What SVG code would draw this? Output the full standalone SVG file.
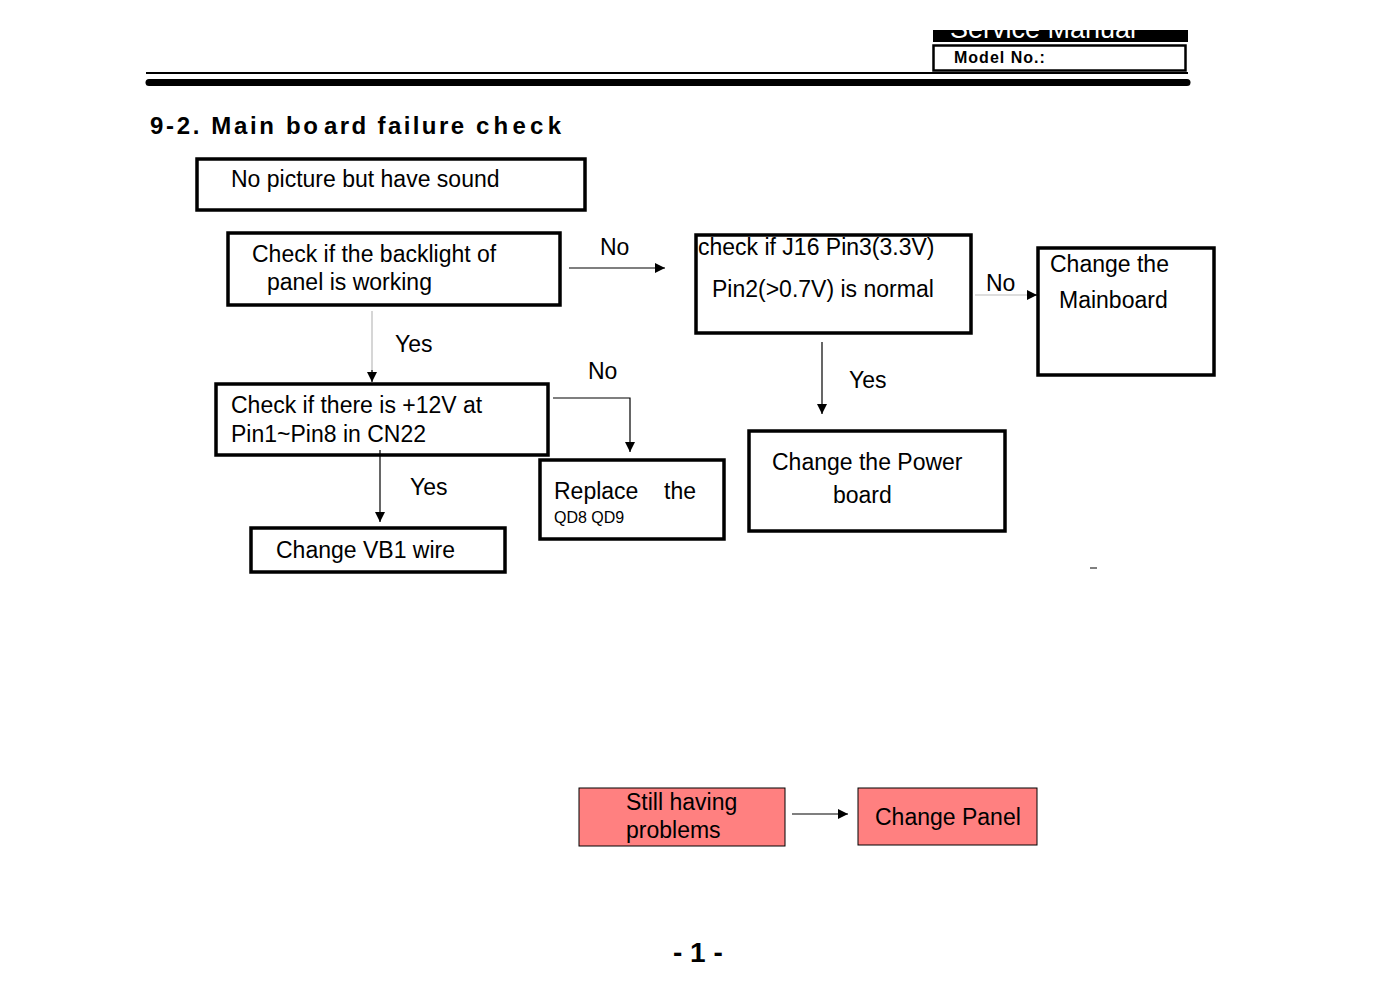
<svg xmlns="http://www.w3.org/2000/svg" width="1400" height="991" viewBox="0 0 1400 991">
<style>
text{font-family:"Liberation Sans",Arial,sans-serif;fill:#000}
.t{font-size:23px}
.box{fill:#fff;stroke:#000;stroke-width:3.5}
.pink{fill:#FF8080;stroke:#000;stroke-width:1}
.c{fill:none;stroke:#000;stroke-width:1.2}
.g{fill:none;stroke:#bbb;stroke-width:1.2}
.ti{font-size:24px;font-weight:bold}
</style>
<defs>
<marker id="ah" viewBox="0 0 10 10" refX="10" refY="5" markerWidth="10" markerHeight="10" markerUnits="userSpaceOnUse" orient="auto">
<path d="M0,0 L10,5 L0,10 z" fill="#000"/>
</marker>
<clipPath id="hc"><rect x="933" y="30" width="255" height="12"/></clipPath>
</defs>
<rect width="1400" height="991" fill="#fff"/>
<g id="header">
<rect x="933" y="30" width="255" height="12" fill="#000"/>
<text x="950" y="38" font-size="27" style="fill:#fff" clip-path="url(#hc)">Service Manual</text>
<rect x="933.5" y="45.5" width="252" height="25" fill="#fff" stroke="#000" stroke-width="2.5"/>
<text x="954" y="63" font-size="16" font-weight="bold" letter-spacing="1">Model No.:</text>
<line x1="146" y1="73" x2="1188" y2="73" stroke="#000" stroke-width="2"/>
<line x1="149" y1="82.5" x2="1187" y2="82.5" stroke="#000" stroke-width="7" stroke-linecap="round"/>
</g>
<g id="title">
<text class="ti" x="150" y="134" textLength="168" lengthAdjust="spacing">9-2. Main bo</text>
<text class="ti" x="324" y="134" textLength="140" lengthAdjust="spacing">ard failure</text>
<text class="ti" x="476" y="134" textLength="85" lengthAdjust="spacing">check</text>
</g>
<g id="n1"><rect class="box" x="197" y="159" width="388" height="51"/><text class="t" x="231" y="187">No picture but have sound</text></g>
<g id="n2"><rect class="box" x="228" y="233" width="332" height="72"/><text class="t" x="252" y="262">Check if the backlight of</text><text class="t" x="267" y="290">panel is working</text></g>
<g id="n3"><rect class="box" x="696" y="235" width="275" height="98"/><text class="t" x="698" y="255">check if J16 Pin3(3.3V)</text><text class="t" x="712" y="297">Pin2(&gt;0.7V) is normal</text></g>
<g id="n4"><rect class="box" x="1038" y="248" width="176" height="127"/><text class="t" x="1050" y="272">Change the</text><text class="t" x="1059" y="308">Mainboard</text></g>
<g id="n5"><rect class="box" x="216" y="384" width="332" height="71"/><text class="t" x="231" y="413">Check if there is +12V at</text><text class="t" x="231" y="442">Pin1~Pin8 in CN22</text></g>
<g id="n6"><rect class="box" x="540" y="460" width="184" height="79" stroke-width="3"/><text class="t" x="554" y="499">Replace</text><text class="t" x="664" y="499">the</text><text x="554" y="523" font-size="16">QD8 QD9</text></g>
<g id="n7"><rect class="box" x="749" y="431" width="256" height="100"/><text class="t" x="772" y="470">Change the Power</text><text class="t" x="833" y="503">board</text></g>
<g id="n8"><rect class="box" x="251" y="528" width="254" height="44"/><text class="t" x="276" y="558">Change VB1 wire</text></g>
<g id="n9"><rect class="pink" x="579" y="788" width="206" height="58"/><text class="t" x="626" y="810">Still having</text><text class="t" x="626" y="838">problems</text></g>
<g id="n10"><rect class="pink" x="858" y="788" width="179" height="57"/><text class="t" x="875" y="825">Change Panel</text></g>
<g id="connectors">
<line class="c" x1="569" y1="268" x2="665" y2="268" marker-end="url(#ah)"/>
<text class="t" x="600" y="255">No</text>
<line class="g" x1="372" y1="311" x2="372" y2="372"/>
<line class="c" x1="372" y1="370" x2="372" y2="382" marker-end="url(#ah)"/>
<text class="t" x="395" y="352">Yes</text>
<polyline class="c" points="553,398 630,398 630,452" marker-end="url(#ah)"/>
<text class="t" x="588" y="379">No</text>
<line class="c" x1="380" y1="450" x2="380" y2="522" marker-end="url(#ah)"/>
<text class="t" x="410" y="495">Yes</text>
<line class="c" x1="822" y1="342" x2="822" y2="414" marker-end="url(#ah)"/>
<text class="t" x="849" y="388">Yes</text>
<line class="g" x1="975" y1="295" x2="1030" y2="295"/>
<line class="c" x1="1028" y1="295" x2="1037" y2="295" marker-end="url(#ah)"/>
<text class="t" x="986" y="291">No</text>
<line class="c" x1="792" y1="814" x2="848" y2="814" stroke-width="1.8" marker-end="url(#ah)"/>
</g>
<line x1="1090" y1="568" x2="1097" y2="568" stroke="#000" stroke-width="1"/>
<text x="673" y="962" font-size="28" font-weight="bold">- 1 -</text>
</svg>
